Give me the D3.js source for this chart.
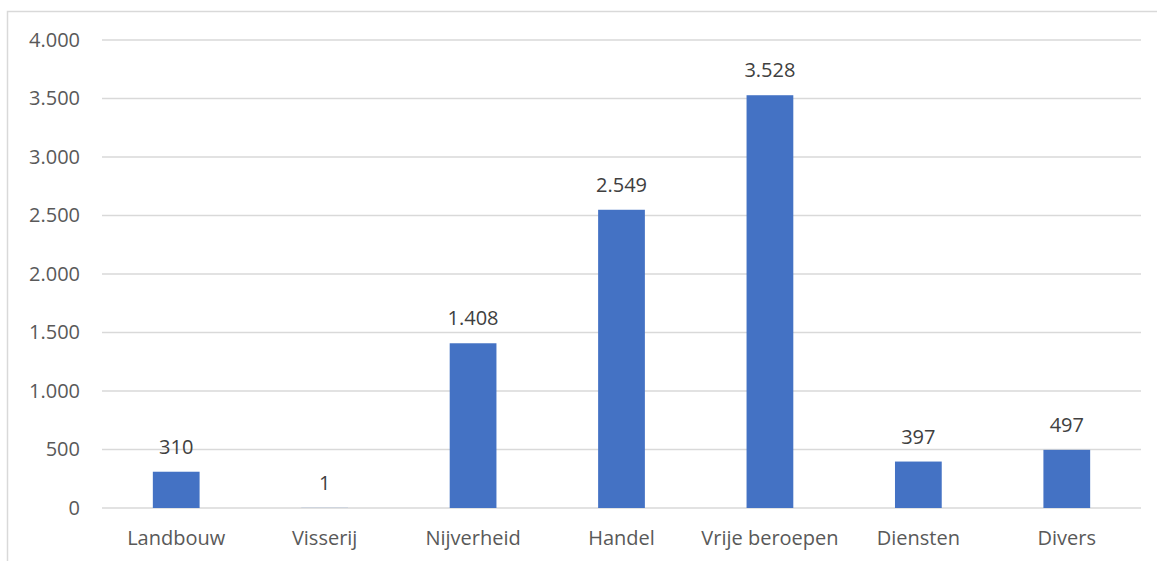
<!DOCTYPE html>
<html><head><meta charset="utf-8">
<script src="https://cdn.jsdelivr.net/npm/d3@7"></script>
<style>body{margin:0;background:#fff}svg{display:block}</style>
</head><body>
<svg id="c" width="1157" height="561"></svg>
<script>
const categories = ["Landbouw","Visserij","Nijverheid","Handel","Vrije beroepen","Diensten","Divers"];
const values = [310, 1, 1408, 2549, 3528, 397, 497];
const yTicks = [0, 500, 1000, 1500, 2000, 2500, 3000, 3500, 4000];

const svg = d3.select("#c");
const fmt = v => d3.format(",")(v).replace(/,/g, ".");
const font = "'Open Sans', sans-serif";
const fs = 20;

// chart frame
svg.append("rect").attr("x", 7.5).attr("y", 11.5).attr("width", 1200).attr("height", 600)
  .attr("fill", "none").attr("stroke", "#d9d9d9").attr("stroke-width", 1.5);

const x = d3.scaleBand().domain(categories).range([102, 1141]).paddingInner(0.685).paddingOuter(0.3425);
const y = d3.scaleLinear().domain([0, 4000]).range([508, 40]);

// gridlines
svg.append("g").selectAll("line").data(yTicks).join("line")
  .attr("x1", 102).attr("x2", 1141)
  .attr("y1", d => y(d)).attr("y2", d => y(d))
  .attr("stroke", "#d9d9d9").attr("stroke-width", 1.5);

// y axis labels
const yAxis = svg.append("g").attr("transform", "translate(80,0)")
  .call(d3.axisLeft(y).tickValues(yTicks).tickFormat(fmt).tickSize(0).tickPadding(0));
yAxis.select(".domain").remove();
yAxis.selectAll("text").attr("font-family", font).attr("font-size", fs).attr("fill", "#595959");

// x axis labels
const xAxis = svg.append("g").attr("transform", "translate(0,508)")
  .call(d3.axisBottom(x).tickSize(0).tickPadding(23));
xAxis.select(".domain").remove();
xAxis.selectAll("text").attr("font-family", font).attr("font-size", fs).attr("fill", "#595959");

// bars
svg.append("g").selectAll("rect").data(values).join("rect")
  .attr("x", (d, i) => x(categories[i]))
  .attr("width", x.bandwidth())
  .attr("y", d => y(d))
  .attr("height", d => y(0) - y(d))
  .attr("fill", "#4472C4");

// data labels
svg.append("g").selectAll("text").data(values).join("text")
  .attr("x", (d, i) => x(categories[i]) + x.bandwidth() / 2)
  .attr("y", d => y(d) - 18)
  .attr("text-anchor", "middle")
  .attr("font-family", font).attr("font-size", fs).attr("fill", "#404040")
  .text(d => fmt(d));
</script>
</body></html>
